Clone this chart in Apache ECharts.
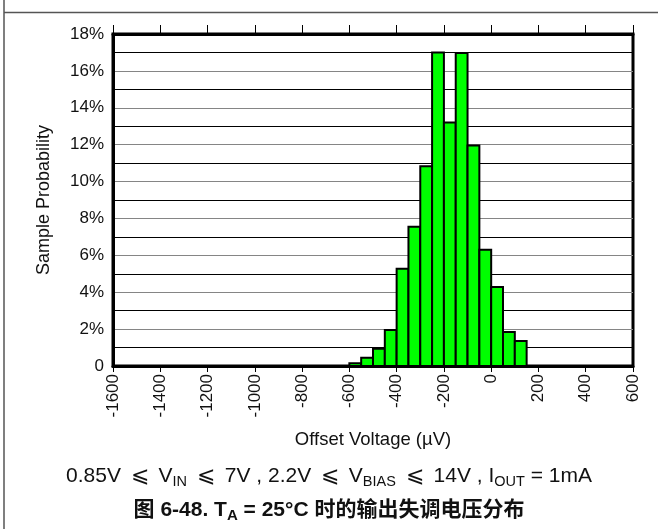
<!DOCTYPE html>
<html>
<head>
<meta charset="utf-8">
<script src="https://cdn.jsdelivr.net/npm/echarts@6/dist/echarts.min.js"></script>
<style>
html,body{margin:0;padding:0;background:#fff;}
#chart{width:658px;height:529px;}
</style>
</head>
<body>
<div id="chart"></div>
<script>
// bin edges (µV) and sample probability (%)
var binStart = [-600,-550,-500,-450,-400,-350,-300,-250,-200,-150,-100,-50,0,50,100];
var binEnd   = [-550,-500,-450,-400,-350,-300,-250,-200,-150,-100,-50,0,50,100,150];
var probability = [0.15,0.45,0.94,1.95,5.27,7.55,10.83,17.0,13.2,16.97,11.95,6.3,4.28,1.84,1.35];
var xTicks = [-1600,-1400,-1200,-1000,-800,-600,-400,-200,0,200,400,600];
var yTicks = [0,2,4,6,8,10,12,14,16,18];

var barData = binStart.map(function(s,i){ return [s, binEnd[i], probability[i]]; });

var chart = echarts.init(document.getElementById('chart'));
var FONT = '"Liberation Sans", Arial, "Noto Sans CJK SC", sans-serif';

var option = {
  animation:false,
  grid:{left:113, right:25, top:34, bottom:163, show:true, borderColor:'#000', borderWidth:3, backgroundColor:'transparent'},
  xAxis:[{
    type:'value', min:xTicks[0], max:xTicks[xTicks.length-1], interval:200, position:'bottom',
    axisLine:{show:true, onZero:false, lineStyle:{color:'#000', width:3}},
    axisTick:{show:true, length:6, lineStyle:{color:'#000', width:1}},
    splitLine:{show:false},
    axisLabel:{rotate:90, fontSize:17, color:'#111', fontFamily:FONT, margin:8,
      formatter:function(v){ return String(v); }},
    name:'Offset Voltage (µV)', nameLocation:'middle', nameGap:65,
    nameTextStyle:{fontSize:18.5, color:'#111', fontFamily:FONT}
  },{
    type:'value', min:xTicks[0], max:xTicks[xTicks.length-1], interval:200, position:'top',
    axisLine:{show:true, onZero:false, lineStyle:{color:'#000', width:3}},
    axisTick:{show:true, length:9, lineStyle:{color:'#000', width:1}},
    axisLabel:{show:false}, splitLine:{show:false}
  }],
  yAxis:{
    type:'value', min:yTicks[0], max:yTicks[yTicks.length-1], interval:2,
    axisLine:{show:true, onZero:false, lineStyle:{color:'#000', width:3}},
    axisTick:{show:false},
    splitLine:{show:true, lineStyle:{color:'#858585', width:1}},
    minorTick:{show:false, splitNumber:2},
    minorSplitLine:{show:true, lineStyle:{color:'#000', width:1}},
    axisLabel:{fontSize:17, color:'#111', fontFamily:FONT, margin:9,
      formatter:function(v){ return v===0?'0':v+'%'; }},
    name:'Sample Probability', nameLocation:'middle', nameGap:60, nameRotate:90,
    nameTextStyle:{fontSize:18, color:'#111', fontFamily:FONT}
  },
  series:[{
    type:'custom',
    xAxisIndex:0,
    data:barData,
    encode:{x:[0,1], y:2},
    renderItem:function(params, api){
      var p0 = api.coord([api.value(0), api.value(2)]);
      var p1 = api.coord([api.value(1), 0]);
      return {type:'rect', shape:{x:p0[0], y:p0[1], width:p1[0]-p0[0], height:p1[1]-p0[1]},
        style:{fill:'#00ff00', stroke:'#000', lineWidth:2}};
    },
    z:5
  }],
  graphic:[
    {type:'line', shape:{x1:4, y1:0, x2:4, y2:529}, style:{stroke:'#555', lineWidth:1.5}, z:100},
    {type:'line', shape:{x1:4, y1:12.5, x2:658, y2:12.5}, style:{stroke:'#555', lineWidth:1.5}, z:100},
    {type:'text', left:'center', top:463, style:{
      text:'0.85V {le|⩽} V{s|IN} {le|⩽} 7V , 2.2V {le|⩽} V{s|BIAS} {le|⩽} 14V , I{s|OUT} = 1mA',
      font:'21px '+FONT, fill:'#111', lineHeight:26,
      rich:{
        s:{fontSize:14.5, fontFamily:FONT, verticalAlign:'bottom', lineHeight:15},
        le:{fontSize:22, fontFamily:FONT, padding:[0,4,0,4], lineHeight:26}
      }
    }},
    {type:'text', left:'center', top:497, style:{
      text:'图 6-48. T{s|A} = 25°C 时的输出失调电压分布',
      font:'bold 21px '+FONT, fill:'#111', lineHeight:26,
      rich:{s:{fontSize:15, fontWeight:'bold', fontFamily:FONT, verticalAlign:'bottom', lineHeight:16}}
    }}
  ]
};
chart.setOption(option);
</script>
</body>
</html>
